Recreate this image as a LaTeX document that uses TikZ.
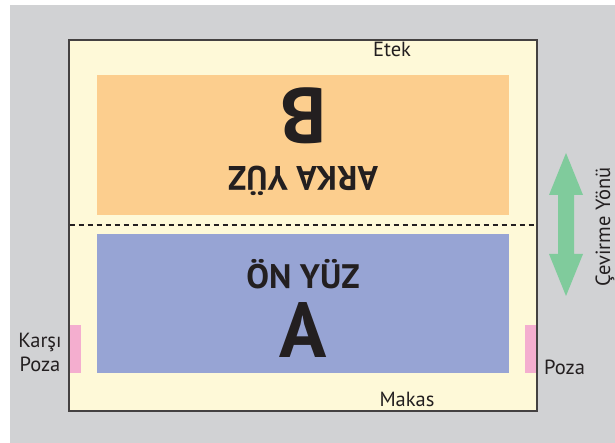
\documentclass[tikz,border=0pt]{standalone}
\usepackage{fontspec}
\setmainfont{PT Sans}
\begin{document}
\begin{tikzpicture}[x=1pt,y=-1pt,
  lbl/.style={font=\fontsize{20.5}{22}\selectfont, text=txt, inner sep=0pt},
  big/.style={font=\bfseries\fontsize{78}{78}\selectfont, text=txt, inner sep=0pt},
  mid/.style={font=\bfseries\fontsize{34}{34}\selectfont, text=txt, inner sep=0pt}]
\definecolor{bg}{HTML}{D1D2D4}
\definecolor{cream}{HTML}{FEF9D8}
\definecolor{orng}{HTML}{FCCE8E}
\definecolor{blu}{HTML}{97A4D4}
\definecolor{pnk}{HTML}{F4AECF}
\definecolor{grn}{HTML}{80CB9C}
\definecolor{txt}{HTML}{231F20}
\useasboundingbox (0,0) rectangle (615,443);
\fill[white] (0,0) rectangle (615,443);
\fill[bg] (10,5) rectangle (615,443);
% sheet
\draw[fill=cream, draw=txt!85, line width=1.2pt] (69,40) rectangle (537,411);
\fill[orng] (97,75) rectangle (509,215);
\fill[blu] (97,234) rectangle (509,373);
\fill[pnk] (70,325) rectangle (81,373);
\fill[pnk] (525,325) rectangle (536.4,373);
\draw[txt, line width=1.6pt, dash pattern=on 5pt off 4pt] (69.6,225) -- (536.4,225);
% labels
\node[lbl, anchor=base] (etek) at (392,57) {Etek};
\node[lbl, anchor=base] (makas) at (407,406) {Makas};
\node[lbl, anchor=base] (karsi) at (40,347) {Karşı};
\node[lbl, anchor=base] (poza1) at (40,371) {Poza};
\node[lbl, anchor=base west] (poza2) at (544,374) {Poza};
% faces
\node[mid, anchor=base] (onyuz) at (303,288) {ÖN YÜZ};
\node[big, anchor=base] (A) at (303,357) {A};
\node[big, anchor=base, rotate=180] (B) at (303,89) {B};
\node[mid, anchor=base, rotate=180] (arka) at (303,167) {ARKA YÜZ};
% arrow
\fill[grn] (566,153) -- (583,195) -- (574,195) -- (574,254) -- (583,254) -- (566,296)
  -- (549,254) -- (558,254) -- (558,195) -- (549,195) -- cycle;
\node[lbl, rotate=90, anchor=base] (cev) at (610,227) {Çevirme Yönü};
\end{tikzpicture}
\end{document}
